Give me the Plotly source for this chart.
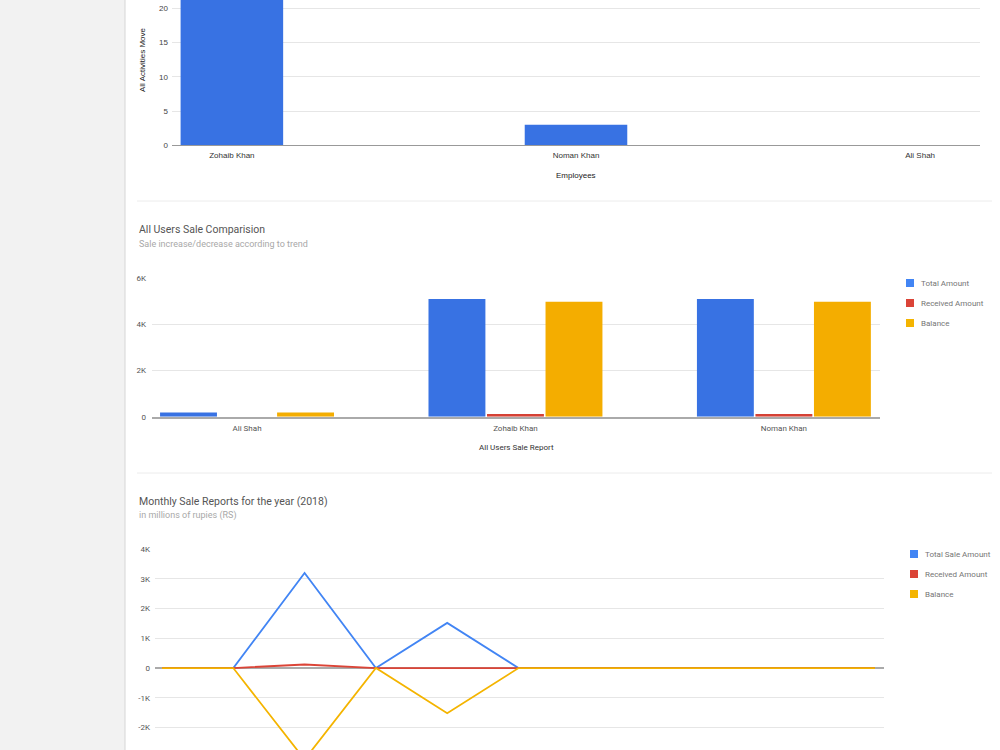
import plotly.graph_objects as go

W, H = 1000, 750


def px(x):
    return x / W


def py(y):
    return 1 - y / H


# ---------------- data ----------------
# Chart 1: activities per employee
employees = ["Zohaib Khan", "Noman Khan", "Ali Shah"]
activities = [24, 3, 0]
act_ticks = [0, 5, 10, 15, 20, 25]

# Chart 2: all users sale comparison
users = ["Ali Shah", "Zohaib Khan", "Noman Khan"]
total_amount = [180, 5100, 5100]
received_amount = [0, 120, 120]
balance_amount = [180, 4980, 4980]
sale_series = ["Total Amount", "Received Amount", "Balance"]
sale_tickvals = [0, 2000, 4000, 6000]
sale_ticktext = ["0", "2K", "4K", "6K"]

# Chart 3: monthly sale report 2018
months = ["Jan", "Feb", "Mar", "Apr", "May", "Jun", "Jul", "Aug", "Sep", "Oct", "Nov"]
total_sale = [0, 0, 3200, 0, 1520, 0, 0, 0, 0, 0, 0]
received_sale = [0, 0, 120, 0, 0, 0, 0, 0, 0, 0, 0]
balance_sale = [0, 0, -3080, 0, -1520, 0, 0, 0, 0, 0, 0]
monthly_series = ["Total Sale Amount", "Received Amount", "Balance"]
monthly_tickvals = [-3000, -2000, -1000, 0, 1000, 2000, 3000, 4000]
monthly_ticktext = ["-3K", "-2K", "-1K", "0", "1K", "2K", "3K", "4K"]

# ---------------- styles ----------------
BLUE = "#4285f4"
RED = "#db4437"
YELLOW = "#f4b400"
BAR_BLUE = "#3872e3"
BAR_RED = "#d54134"
BAR_YELLOW = "#f4ad00"
GRID = "#e6e6e6"
ROBOTO = "Roboto"
ARIAL = "Liberation Sans, Arial"

fig = go.Figure()

# Chart 1 bars
fig.add_trace(go.Bar(
    x=employees, y=activities, xaxis="x", yaxis="y",
    marker=dict(color=BAR_BLUE, line=dict(width=0)),
    width=0.298, offset=-0.149, showlegend=False,
))

# Chart 2 grouped bars
bar_w = 0.212
step = 0.218
for i, (name, vals, col) in enumerate(zip(sale_series,
                                          [total_amount, received_amount, balance_amount],
                                          [BAR_BLUE, BAR_RED, BAR_YELLOW])):
    fig.add_trace(go.Bar(
        x=users, y=vals, name=name, xaxis="x2", yaxis="y2",
        marker=dict(color=col, line=dict(width=0)),
        width=bar_w, offset=(i - 1) * step - bar_w / 2, showlegend=False,
    ))

# Chart 3 lines
for name, vals, col in zip(monthly_series,
                           [total_sale, received_sale, balance_sale],
                           [BLUE, RED, YELLOW]):
    fig.add_trace(go.Scatter(
        x=months, y=vals, name=name, mode="lines", xaxis="x3", yaxis="y3",
        line=dict(color=col, width=1.8), showlegend=False,
    ))

# ---------------- layout ----------------
shapes = [
    # sidebar
    dict(type="rect", xref="paper", yref="paper", x0=0, x1=px(125), y0=0, y1=1,
         fillcolor="#f2f2f2", line=dict(width=0), layer="below"),
    dict(type="line", xref="paper", yref="paper", x0=px(125), x1=px(125), y0=0, y1=1,
         line=dict(color="#d6d6d6", width=1), layer="below"),
    # separators
    dict(type="line", xref="paper", yref="paper", x0=px(137), x1=px(992), y0=py(201), y1=py(201),
         line=dict(color="#ececec", width=1), layer="below"),
    dict(type="line", xref="paper", yref="paper", x0=px(137), x1=px(992), y0=py(473), y1=py(473),
         line=dict(color="#ececec", width=1), layer="below"),
]


def ann(text, x, y, size, color, family=ROBOTO, xanchor="center", angle=0):
    return dict(text=text, x=px(x), y=py(y), xref="paper", yref="paper",
                xanchor=xanchor, yanchor="middle", textangle=angle, showarrow=False,
                font=dict(family=family, size=size, color=color))


annotations = [
    # chart 1 axis titles
    ann("All Activities Move", 143, 60, 8, "#222", ARIAL, angle=-90),
    ann("Employees", 576, 175, 8, "#222", ARIAL),
    # chart 2 titles
    ann("All Users Sale Comparision", 137, 229, 10.5, "#555555", xanchor="left"),
    ann("Sale increase/decrease according to trend", 137, 243.5, 9, "#a8a8a8", xanchor="left"),
    ann("All Users Sale Report", 516, 447, 8, "#333"),
    # chart 3 titles
    ann("Monthly Sale Reports for the year (2018)", 137, 501, 10.5, "#555555", xanchor="left"),
    ann("in millions of rupies (RS)", 137, 515.5, 9, "#a8a8a8", xanchor="left"),
]


# legends (manual, squares)
def add_legend(names, colors, x_sq, y0):
    for k, (n, c) in enumerate(zip(names, colors)):
        yc = y0 + 20 * k
        shapes.append(dict(type="rect", xref="paper", yref="paper",
                           x0=px(x_sq), x1=px(x_sq + 8), y0=py(yc - 4), y1=py(yc + 4),
                           fillcolor=c, line=dict(width=0)))
        annotations.append(ann(n, x_sq + 13, yc, 8, "#757575", xanchor="left"))


add_legend(sale_series, [BLUE, RED, YELLOW], 906, 283)
add_legend(monthly_series, [BLUE, RED, YELLOW], 910, 554)

fig.update_layout(
    width=W, height=H,
    margin=dict(l=0, r=0, t=0, b=0, pad=0),
    paper_bgcolor="white", plot_bgcolor="rgba(0,0,0,0)",
    barmode="overlay",
    showlegend=False,
    shapes=shapes, annotations=annotations,
    xaxis=dict(domain=[px(172), px(980)], anchor="y", range=[-0.174, 2.174],
               showgrid=False, showline=True, linecolor="#999", linewidth=1,
               ticks="", tickfont=dict(family=ARIAL, size=8, color="#333"),
               ticklabelstandoff=2, automargin=False),
    yaxis=dict(domain=[py(145.3), 1], anchor="x", range=[0, 21.21],
               tickvals=act_ticks, gridcolor=GRID, zeroline=False,
               ticks="", tickfont=dict(family=ARIAL, size=8, color="#444"),
               ticklabelstandoff=3, automargin=False),
    xaxis2=dict(domain=[px(152), px(880)], anchor="y2", range=[-0.354, 2.358],
                showgrid=False, showline=True, linecolor="#aaa", linewidth=1.5,
                ticks="", tickfont=dict(family=ROBOTO, size=8, color="#555"),
                ticklabelstandoff=3, automargin=False),
    yaxis2=dict(domain=[py(416.7), py(278.3)], anchor="x2", range=[0, 6000],
                tickvals=sale_tickvals, ticktext=sale_ticktext, gridcolor=GRID,
                zeroline=False, ticks="", tickfont=dict(family=ROBOTO, size=8, color="#555"),
                ticklabelstandoff=5, automargin=False),
    xaxis3=dict(domain=[px(155), px(884)], anchor="y3", range=[-0.098, 10.126],
                showgrid=False, showline=False, showticklabels=False, ticks="",
                automargin=False),
    yaxis3=dict(domain=[0, py(549.3)], anchor="x3", range=[-2760, 4000],
                tickvals=monthly_tickvals, ticktext=monthly_ticktext, gridcolor=GRID,
                zeroline=True, zerolinecolor="#aaa", zerolinewidth=1.5,
                ticks="", tickfont=dict(family=ROBOTO, size=8, color="#555"),
                ticklabelstandoff=4, automargin=False),
)

fig.write_html("out.html")
